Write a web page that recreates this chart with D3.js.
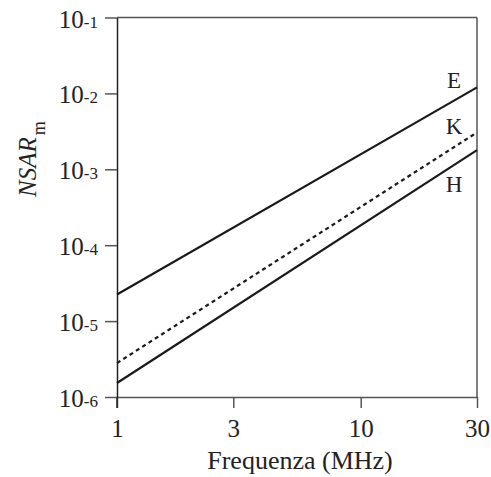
<!DOCTYPE html>
<html>
<head>
<meta charset="utf-8">
<script src="https://cdn.jsdelivr.net/npm/d3@7"></script>
<style>
  html, body { margin: 0; padding: 0; background: #fff; }
  svg { display: block; }
  text { font-family: "Liberation Serif", "Times New Roman", serif; fill: #222; }
</style>
</head>
<body>
<svg id="chart" width="491" height="477"></svg>
<script>
// Frequency points (MHz) at which each curve is given
const freqs = [1, 30];
// Normalised SAR per curve
const seriesE = [2.24e-5, 1.2e-2];
const seriesK = [2.8e-6, 3.06e-3];
const seriesH = [1.53e-6, 1.79e-3];
const seriesNames = ["E", "K", "H"];
// Axis ticks
const xTicks = [1, 3, 10, 30];
const xTickLabels = ["1", "3", "10", "30"];
const yTicks = [1e-6, 1e-5, 1e-4, 1e-3, 1e-2, 1e-1];
const yTickExps = ["-6", "-5", "-4", "-3", "-2", "-1"];

const svg = d3.select("#chart");
const plotL = 117, plotR = 477, plotT = 17.5, plotB = 397;

const x = d3.scaleLog().domain([1, 30]).range([plotL, plotR]);
const y = d3.scaleLog().domain([1e-6, 1e-1]).range([plotB, plotT]);

const axisColor = "#555";

// Frame: top and right edges
svg.append("line").attr("x1", plotL).attr("x2", plotR).attr("y1", plotT).attr("y2", plotT)
  .attr("stroke", axisColor).attr("stroke-width", 1.5);
svg.append("line").attr("x1", plotR).attr("x2", plotR).attr("y1", plotT).attr("y2", plotB)
  .attr("stroke", axisColor).attr("stroke-width", 1.5);

// Bottom axis
const gx = svg.append("g").attr("transform", `translate(0,${plotB})`)
  .call(d3.axisBottom(x).tickValues(xTicks).tickSizeInner(11).tickSizeOuter(0)
    .tickFormat((d, i) => xTickLabels[i]));
gx.select(".domain").attr("stroke", axisColor).attr("stroke-width", 1.5);
gx.selectAll(".tick line").attr("stroke", axisColor).attr("stroke-width", 1.5);
gx.selectAll(".tick text").attr("y", 40).attr("dy", null)
  .style("font-size", "25px").style("font-family", "Liberation Serif, serif").attr("fill", "#222");

// Left axis
const gy = svg.append("g").attr("transform", `translate(${plotL},0)`)
  .call(d3.axisLeft(y).tickValues(yTicks).tickSizeInner(12).tickSizeOuter(0).tickFormat(""));
gy.select(".domain").attr("stroke", "#222").attr("stroke-width", 1.5);
gy.selectAll(".tick line").attr("stroke", axisColor).attr("stroke-width", 1.5);
gy.selectAll(".tick text").remove();
gy.selectAll(".tick").each(function (d, i) {
  const t = d3.select(this).append("text")
    .attr("x", -19).attr("y", 9.5).attr("text-anchor", "end");
  t.append("tspan").style("font-size", "25px").text("10");
  t.append("tspan").style("font-size", "17px").text(yTickExps[i]);
});
// Left axis continues down to the x=1 tick
svg.append("line").attr("x1", plotL).attr("x2", plotL).attr("y1", plotB).attr("y2", plotB + 11)
  .attr("stroke", "#222").attr("stroke-width", 1.5);

// Curves
const line = d3.line().x(d => x(d[0])).y(d => y(d[1]));
const series = [seriesE, seriesK, seriesH];
series.forEach((vals, i) => {
  svg.append("path")
    .datum(freqs.map((f, j) => [f, vals[j]]))
    .attr("d", line)
    .attr("fill", "none")
    .attr("stroke", "#1a1a1a")
    .attr("stroke-width", 2.2)
    .attr("stroke-dasharray", seriesNames[i] === "K" ? "4,3.5" : null);
});

// Curve labels
const labelY = [88, 134, 192];
seriesNames.forEach((n, i) => {
  svg.append("text").attr("x", 454).attr("y", labelY[i]).attr("text-anchor", "middle")
    .style("font-size", "23px").text(n);
});

// X axis title
svg.append("text").attr("x", 300).attr("y", 469).attr("text-anchor", "middle")
  .style("font-size", "26px").text("Frequenza (MHz)");

// Y axis title
const yt = svg.append("text").attr("transform", "translate(36,197) rotate(-90)")
  .attr("text-anchor", "start");
yt.append("tspan").style("font-size", "25px").style("font-style", "italic").text("NSAR");
yt.append("tspan").style("font-size", "18px").attr("dy", 9).attr("dx", 2).text("m");
</script>
</body>
</html>
